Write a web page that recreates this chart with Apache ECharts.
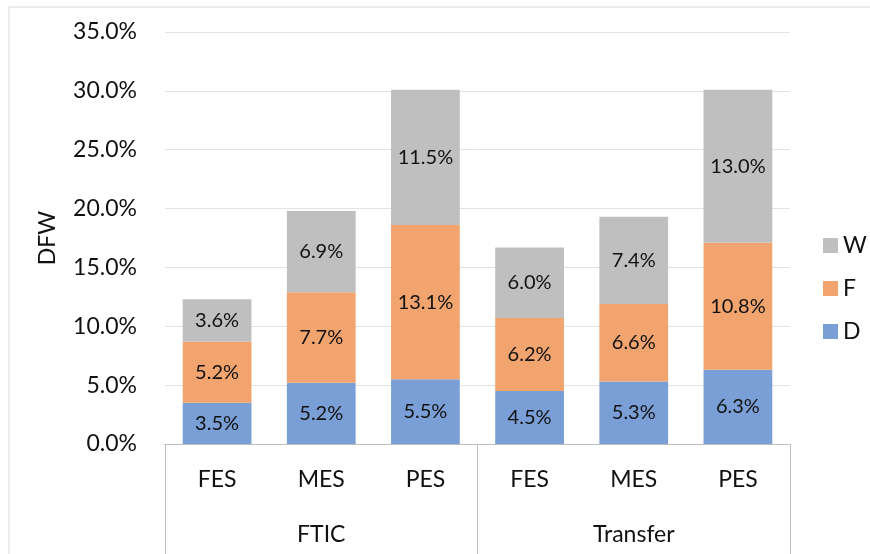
<!DOCTYPE html>
<html>
<head>
	<meta charset="utf-8">
	<title>DFW</title>
	<script type="text/javascript" src="https://cdn.jsdelivr.net/npm/echarts@6/dist/echarts.min.js"></script>
	<style>
		html, body { margin: 0; padding: 0; background: #fff; }
	</style>
</head>
<body>
	<div id="main" style="width: 870px;height:554px;"></div>
	<script type="text/javascript">
var categories = ['FES', 'MES', 'PES', 'FES', 'MES', 'PES'];
var groups = ['FTIC', 'Transfer'];
var dValues = [3.5, 5.2, 5.5, 4.5, 5.3, 6.3];
var fValues = [5.2, 7.7, 13.1, 6.2, 6.6, 10.8];
var wValues = [3.6, 6.9, 11.5, 6.0, 7.4, 13.0];
var yTicks = { min: 0, max: 35, interval: 5 };

var font = 'Lato, "Open Sans", sans-serif';
var pct = function (p) { return p.value.toFixed(1) + '%'; };

var barLabel = {
    show: true,
    position: 'inside',
    formatter: pct,
    color: '#111',
    fontSize: 20,
    fontFamily: font
};

var option = {
    backgroundColor: '#fff',
    animation: false,
    graphic: [{
        type: 'rect',
        shape: { x: 9, y: 7, width: 900, height: 600 },
        style: { fill: 'none', stroke: '#d9d9d9', lineWidth: 1 },
        silent: true
    }],
    grid: { left: 165, right: 80, top: 32, bottom: 110 },
    legend: {
        orient: 'vertical',
        left: 818,
        top: 229,
        itemWidth: 15,
        itemHeight: 15,
        itemGap: 20,
        icon: 'rect',
        data: ['W', 'F', 'D'],
        textStyle: { fontSize: 23, color: '#111', fontFamily: font }
    },
    xAxis: [{
        type: 'category',
        data: categories,
        position: 'bottom',
        axisLine: { lineStyle: { color: '#bfbfbf' } },
        axisTick: { show: false },
        axisLabel: { interval: 0, margin: 24, fontSize: 23, color: '#111', fontFamily: font }
    }, {
        type: 'category',
        data: groups,
        position: 'bottom',
        axisLine: { lineStyle: { color: '#bfbfbf' } },
        axisTick: { show: true, length: 112, interval: 0, lineStyle: { color: '#bfbfbf' } },
        axisLabel: { interval: 0, margin: 79, fontSize: 23, color: '#111', fontFamily: font }
    }],
    yAxis: {
        type: 'value',
        min: yTicks.min,
        max: yTicks.max,
        interval: yTicks.interval,
        name: 'DFW',
        nameLocation: 'middle',
        nameGap: 106,
        nameRotate: 90,
        nameTextStyle: { fontSize: 23, color: '#111', fontFamily: font },
        axisLine: { show: false },
        axisTick: { show: false },
        splitLine: { lineStyle: { color: '#e3e3e3' } },
        axisLabel: {
            margin: 28,
            fontSize: 23,
            color: '#111',
            fontFamily: font,
            formatter: function (v) { return v.toFixed(1) + '%'; }
        }
    },
    series: [{
        name: 'D',
        type: 'bar',
        stack: 'dfw',
        barWidth: '66%',
        data: dValues,
        itemStyle: { color: '#7a9fd7' },
        label: barLabel
    }, {
        name: 'F',
        type: 'bar',
        stack: 'dfw',
        data: fValues,
        itemStyle: { color: '#f2a46e' },
        label: barLabel
    }, {
        name: 'W',
        type: 'bar',
        stack: 'dfw',
        data: wValues,
        itemStyle: { color: '#bfbfbf' },
        label: barLabel
    }]
};

var myChart = echarts.init(document.getElementById('main'));
myChart.setOption(option);
	</script>
</body>
</html>
